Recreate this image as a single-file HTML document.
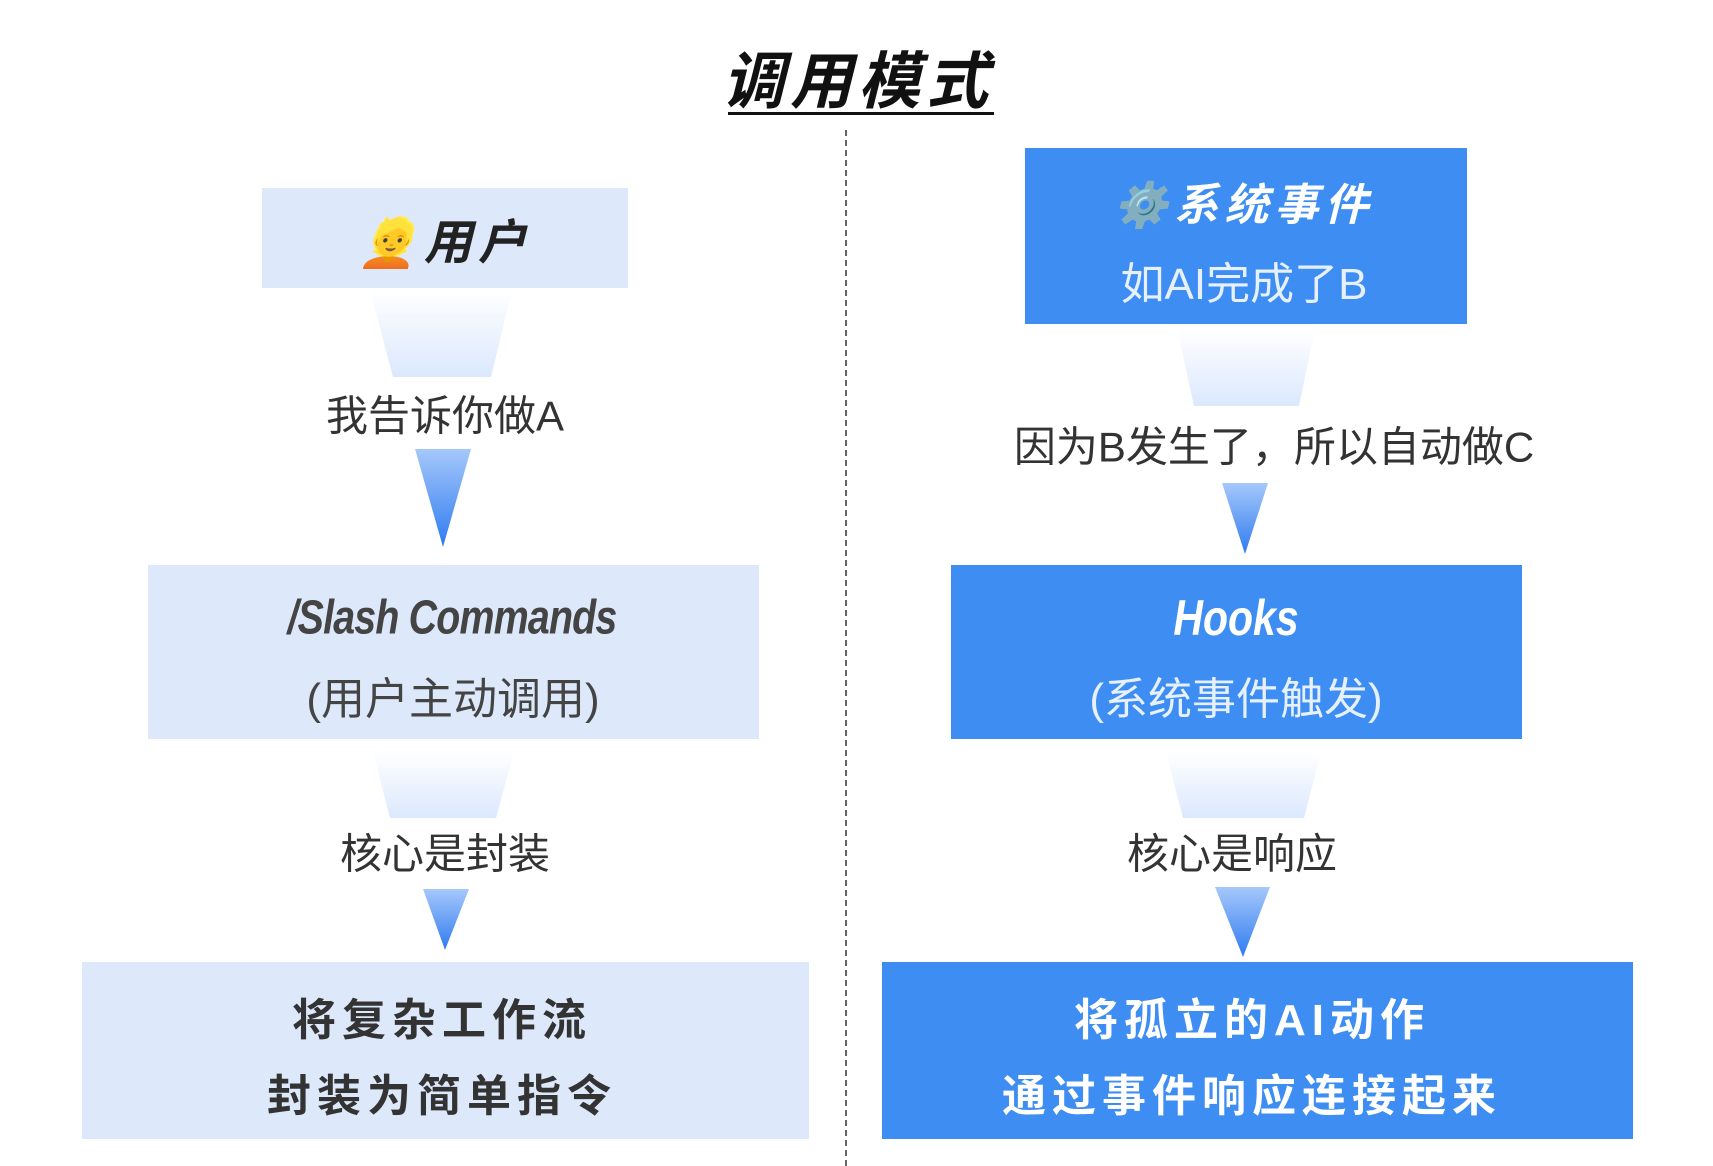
<!DOCTYPE html>
<html><head><meta charset="utf-8"><style>
body{margin:0;background:#fff;width:1713px;height:1166px;position:relative;overflow:hidden;font-family:"Liberation Sans","Noto Sans CJK SC",sans-serif}
.a{position:absolute}
.box{position:absolute}
.lt{background:#dde9fb}
.dk{background:#3d8df2}
.t{position:absolute;text-align:center;white-space:nowrap;transform:translate(-50%,-50%);color:#333;font-size:42px}
.b{font-weight:bold;font-style:italic}
.c{font-weight:bold}
</style></head><body>
<div class="t b" style="left:858px;top:76px;font-size:62px;color:#111;letter-spacing:6px">调用模式</div>
<div class="a" style="left:728px;top:112px;width:266px;height:3px;background:#111"></div>
<div class="a" style="left:845px;top:130px;height:1036px;border-left:2px dashed #666"></div>
<svg class="a" style="left:0;top:0" width="1713" height="1166">
<defs>
<linearGradient id="f" x1="0" y1="0" x2="0" y2="1"><stop offset="0" stop-color="#fff"/><stop offset="1" stop-color="#dbe8fd"/></linearGradient>
<linearGradient id="tr" x1="0" y1="0" x2="0" y2="1"><stop offset="0" stop-color="#a6c8fb"/><stop offset="1" stop-color="#2f7bf0"/></linearGradient>
</defs>
<polygon points="370,290 512,290 491,377 393,377" fill="url(#f)"/>
<polygon points="415,449 471,449 443,547" fill="url(#tr)"/>
<polygon points="373,752 514,752 496,818 390,818" fill="url(#f)"/>
<polygon points="423,889 469,889 445,950" fill="url(#tr)"/>
<polygon points="1177,329 1315,329 1299,406 1194,406" fill="url(#f)"/>
<polygon points="1222,483 1268,483 1245,554" fill="url(#tr)"/>
<polygon points="1166,752 1321,752 1304,818 1183,818" fill="url(#f)"/>
<polygon points="1215,887 1270,887 1243,957" fill="url(#tr)"/>
</svg>
<div class="box lt" style="left:262px;top:188px;width:366px;height:100px"></div>
<div class="t b" style="left:445px;top:238px;font-size:48px;color:#222;letter-spacing:6px">👱用户</div>
<div class="t" style="left:445px;top:413px">我告诉你做A</div>
<div class="box lt" style="left:148px;top:565px;width:611px;height:174px"></div>
<div class="t b" style="left:452px;top:618px;font-size:48px;color:#444;letter-spacing:-1px;transform:translate(-50%,-50%) scaleX(0.82)">/Slash Commands</div>
<div class="t" style="left:453px;top:695px;font-size:44px;color:#444">(用户主动调用)</div>
<div class="t" style="left:445px;top:851px">核心是封装</div>
<div class="box lt" style="left:82px;top:962px;width:727px;height:177px"></div>
<div class="t c" style="left:442px;top:1016px;font-size:44px;color:#333;letter-spacing:6px">将复杂工作流</div>
<div class="t c" style="left:442px;top:1092px;font-size:44px;color:#333;letter-spacing:6px">封装为简单指令</div>

<div class="box dk" style="left:1025px;top:148px;width:442px;height:176px"></div>
<div class="t b" style="left:1244px;top:201px;font-size:44px;color:#fff;letter-spacing:6px">⚙️系统事件</div>
<div class="t" style="left:1244px;top:280px;font-size:44px;color:#e6f0ff">如AI完成了B</div>
<div class="t" style="left:1274px;top:444px">因为B发生了，所以自动做C</div>
<div class="box dk" style="left:951px;top:565px;width:571px;height:174px"></div>
<div class="t b" style="left:1236px;top:618px;font-size:50px;color:#fff;transform:translate(-50%,-50%) scaleX(0.82)">Hooks</div>
<div class="t" style="left:1236px;top:695px;font-size:44px;color:#e6f0ff">(系统事件触发)</div>
<div class="t" style="left:1232px;top:851px">核心是响应</div>
<div class="box dk" style="left:882px;top:962px;width:751px;height:177px"></div>
<div class="t c" style="left:1252px;top:1016px;font-size:44px;color:#fff;letter-spacing:6px">将孤立的AI动作</div>
<div class="t c" style="left:1252px;top:1092px;font-size:44px;color:#fff;letter-spacing:6px">通过事件响应连接起来</div>
</body></html>
